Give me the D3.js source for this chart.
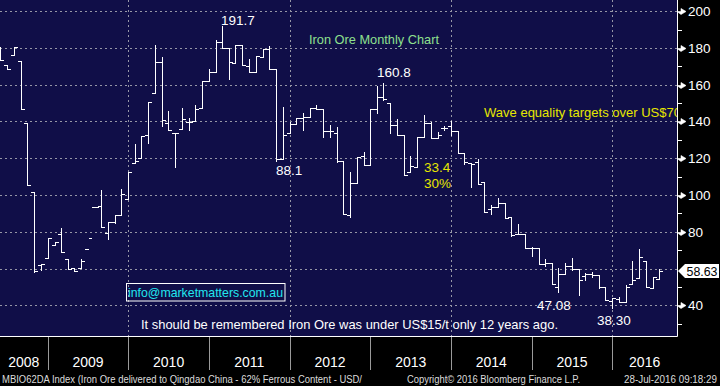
<!DOCTYPE html>
<html>
<head>
<meta charset="utf-8">
<script src="https://cdnjs.cloudflare.com/ajax/libs/d3/7.8.5/d3.min.js"></script>
<style>
  body { margin: 0; background: #000; }
  svg text { font-family: "Liberation Sans", Arial, sans-serif; }
</style>
</head>
<body>
<script>
// monthly OHLC bars of the iron ore index, May 2008 - Jul 2016
let months = [
  "2008-05","2008-06","2008-07","2008-08","2008-09","2008-10","2008-11","2008-12",
  "2009-01","2009-02","2009-03","2009-04","2009-05","2009-06","2009-07","2009-08","2009-09","2009-10","2009-11","2009-12",
  "2010-01","2010-02","2010-03","2010-04","2010-05","2010-06","2010-07","2010-08","2010-09","2010-10","2010-11","2010-12",
  "2011-01","2011-02","2011-03","2011-04","2011-05","2011-06","2011-07","2011-08","2011-09","2011-10","2011-11","2011-12",
  "2012-01","2012-02","2012-03","2012-04","2012-05","2012-06","2012-07","2012-08","2012-09","2012-10","2012-11","2012-12",
  "2013-01","2013-02","2013-03","2013-04","2013-05","2013-06","2013-07","2013-08","2013-09","2013-10","2013-11","2013-12",
  "2014-01","2014-02","2014-03","2014-04","2014-05","2014-06","2014-07","2014-08","2014-09","2014-10","2014-11","2014-12",
  "2015-01","2015-02","2015-03","2015-04","2015-05","2015-06","2015-07","2015-08","2015-09","2015-10","2015-11","2015-12",
  "2016-01","2016-02","2016-03","2016-04","2016-05","2016-06","2016-07"
];
let open = [
  180, 170.6, 176, 172.8, 139, 101.5, 61.8, 65.6,
  72.6, 78.8, 65, 60.5, 60.1, 70.5, 93.3, 94, 79.2, 85.5, 89.1, 97.7,
  117.6, 120, 132.5, 155.3, 172.2, 139, 133.6, 135.8, 139.9, 140.1, 147.2, 161.9,
  166.8, 183.1, 179.8, 172, 181.8, 170, 166.8, 175.3, 179.7, 168.6, 119.4, 133.6,
  138.5, 141.7, 142.6, 147.3, 146.6, 135, 133.9, 118.5, 89.1, 106.4, 121.2, 116.3,
  146.6, 153.5, 150.2, 137.9, 132.7, 112.7, 115.4, 131.8, 139, 131.2, 136.6, 137.5,
  135, 122.7, 117.3, 118.1, 106.9, 92.2, 93.6, 95.8, 87.9, 78.8, 78.8, 71.3,
  71.3, 62.3, 62.8, 50.1, 56.9, 61.4, 59.6, 56.1, 56.9, 56.5, 49.8, 42.3,
  43.6, 42, 51.4, 54.7, 64.1, 49.2, 54.1
];
let high = [
  180.7, 170.6, 180.4, 172.8, 139, 101.5, 62.5, 76.5,
  74.4, 81.9, 65, 60.5, 65, null, null, 102.7, 85.5, 89.1, 103.1, 112.7,
  127.8, 132, 150.6, 181.6, 174.9, 145.7, 133.6, 147.3, 141.7, 149, 161.9, 168.6,
  184.3, 191.7, 179.8, 181.8, 181.8, 174, 175.6, 179.7, 181.1, 168.6, 147.7, 139.9,
  141.7, 144.5, 147.3, 148.8, 146.6, 138.1, 136.8, 118.5, 112.4, 120.5, 123.6, 146.6,
  159.3, 160.8, 150.2, 141.5, 132.7, 121.2, 131.8, 143.5, 139.6, 134.4, 137.5, 140.4,
  135, 122.7, 117.3, 119.4, 106.9, 94.6, 98.2, 95.8, 87.9, 84.2, 78.8, 71.9,
  71.3, 65.2, 62.8, 60.1, 63.2, 65.6, 59.6, 57.4, 58.3, 56.5, 49.8, 44.1,
  44.7, 51, 64.1, 70.6, 64.1, 55.6, 59.6
];
let low = [
  173.5, 168.4, 176, 146.6, 105.3, 58.2, 59.2, 65.6,
  72.6, 68.8, 59.6, 58.5, 60.1, null, null, 82.4, 75.9, 84.6, 89.1, 97.7,
  117.6, 120, 128.5, 155.3, 137.6, 135.3, 115.4, 135.8, 135.3, 140.1, 147.2, 161.9,
  166.8, 179.8, 163, 172, 170.6, 166.8, 166.8, 175.3, 168.6, 118.3, 119.4, 133.6,
  138.5, 135.6, 142.6, 146.6, 131.4, 131.7, 118.1, 89.7, 88.2, 106.4, 116.3, 116.3,
  144.5, 151.7, 133.6, 132.7, 110.9, 112.7, 115.4, 131.8, 131.2, 130.8, 135.4, 132.7,
  122.7, 116.7, 104.2, 106, 90.9, 89.7, 93.6, 87.3, 77.7, 78.8, 71.3, 67,
  62.3, 61.4, 51.6, 47.08, 56.9, 59.2, 45.4, 53.8, 55.6, 49.2, 42.9, 38.3,
  42, 42, 51.4, 54.7, 50.1, 49.2, 54.1
];
let close = [
  173.5, 168.4, 180.4, 146.6, 105.3, 58.7, 62.5, 76.5,
  74.4, 68.8, 59.6, 58.5, 63.9, 76.5, 93.3, 82.4, 85.5, 89.1, 100.4, 112.7,
  118.7, 132, 150.6, 172.2, 140.8, 135.3, 133.6, 141.4, 139.9, 146.6, 161.9, 166.8,
  183.1, 179.8, 172.4, 181.8, 170.6, 166.8, 175.6, 179.7, 168.6, 119.4, 132.5, 138.5,
  141.7, 142.6, 147.3, 146.6, 135, 135, 118.5, 89.7, 106.4, 120.5, 116.3, 146.6,
  153.5, 152.1, 137.9, 132.7, 110.9, 116, 131.8, 139, 131.2, 132.7, 136.6, 135,
  122.7, 117.8, 116.9, 106, 90.9, 93.6, 95.8, 87.3, 78.2, 78.8, 71.3, 71.3,
  62.3, 62.8, 51.6, 56.9, 61.4, 59.6, 53.8, 56.9, 56.5, 49.8, 42.9, 44.1,
  42, 49.8, 53.8, 66.4, 50.1, 55.6, 58.63
];
let lastPrice = 58.63;

let years = ["2008","2009","2010","2011","2012","2013","2014","2015","2016"];
let yTicks = [40, 60, 80, 100, 120, 140, 160, 180, 200];
let yMinor = [30, 50, 70, 90, 110, 130, 150, 170, 190];

// plot box
let W = 720, H = 386;
let plotR = 677, plotB = 336;

let svg = d3.select('body').append('svg')
    .attr('width', W)
    .attr('height', H);

svg.append('rect').attr('width', W).attr('height', H).attr('fill', '#000');
svg.append('rect')
   .attr('width', plotR).attr('height', plotB)
   .attr('fill', '#100e48');

svg.append('clipPath').attr('id', 'plotclip')
   .append('rect').attr('width', plotR).attr('height', plotB);

let x = d3.scaleTime()
    .domain([new Date(2010, 0, 1), new Date(2016, 0, 1)])
    .range([128.3, 612.3]);
let y = d3.scaleLinear().domain([40, 200]).range([305.3, 11.2]);

let parse = d3.timeParse('%Y-%m');
// bloomberg puts each monthly bar at the end of its month
let bars = months.map((m, i) => ({
    date: d3.timeMonth.offset(parse(m), 1),
    o: open[i], h: high[i], l: low[i], c: close[i]
}));

let plot = svg.append('g').attr('clip-path', 'url(#plotclip)');

// dashed grid
plot.selectAll('.hgrid')
    .data(yTicks)
    .enter().append('line')
    .attr('x1', 0).attr('x2', plotR)
    .attr('y1', d => Math.round(y(d)) + 0.5)
    .attr('y2', d => Math.round(y(d)) + 0.5)
    .attr('stroke', '#9696a6')
    .attr('stroke-dasharray', '2,3');

let gridYears = [2010, 2012, 2014, 2016];
plot.selectAll('.vgrid')
    .data(gridYears)
    .enter().append('line')
    .attr('x1', d => Math.round(x(new Date(d, 0, 1))) + 0.5)
    .attr('x2', d => Math.round(x(new Date(d, 0, 1))) + 0.5)
    .attr('y1', 0).attr('y2', plotB)
    .attr('stroke', '#9696a6')
    .attr('stroke-dasharray', '2,3');

// the bars
plot.selectAll('.bar')
    .data(bars)
    .enter().append('path')
    .attr('d', d => {
        let px = Math.round(x(d.date)) + 0.5;
        let p = '';
        if (d.h != null) p += `M${px},${Math.round(y(d.h))}V${Math.round(y(d.l)) + 1}`;
        p += `M${px - 3.5},${Math.round(y(d.o)) + 0.5}H${px}`;
        p += `M${px},${Math.round(y(d.c)) + 0.5}H${px + 3.5}`;
        return p;
    })
    .attr('fill', 'none')
    .attr('stroke', '#fff')
    .attr('stroke-width', 1)
    .attr('shape-rendering', 'crispEdges');

// annotations
let note = (t, px, py, col, size, len) => {
    let el = plot.append('text').text(t)
        .attr('x', px).attr('y', py)
        .attr('fill', col)
        .attr('font-size', size);
    if (len) el.attr('textLength', len).attr('lengthAdjust', 'spacingAndGlyphs');
    return el;
};
note('191.7', 221, 25, '#fff', 13.5);
note('Iron Ore Monthly Chart', 309, 44, '#8ee08e', 13.5, 130);
note('160.8', 377, 77, '#fff', 13.5);
note('Wave equality targets over US$70', 484, 117, '#e6e600', 13, 197);
note('88.1', 276, 175, '#fff', 13.5);
note('33.4', 424, 172, '#e6e600', 13.5);
note('30%', 424, 188, '#e6e600', 13.5);
note('47.08', 537, 310, '#fff', 13.5);
note('38.30', 597, 325, '#fff', 13.5);

plot.append('rect')
    .attr('x', 126.5).attr('y', 283.5)
    .attr('width', 158.5).attr('height', 17.5)
    .attr('fill', 'none').attr('stroke', '#fff');
note('info@marketmatters.com.au', 128, 297, '#22e6ef', 13.5, 155);
note('It should be remembered Iron Ore was under US$15/t only 12 years ago.', 141, 329, '#fff', 13.3, 417);

// borders
svg.append('path')
   .attr('d', `M0,${plotB + 0.5}H${plotR + 0.5}V0`)
   .attr('fill', 'none').attr('stroke', '#fff');

// y axis on the right
let yAxis = svg.append('g');
yAxis.selectAll('.minor')
    .data(yMinor)
    .enter().append('line')
    .attr('x1', plotR).attr('x2', plotR + 5)
    .attr('y1', d => Math.round(y(d)) + 0.5)
    .attr('y2', d => Math.round(y(d)) + 0.5)
    .attr('stroke', '#fff');
// the label of the tick hidden under the last price box is left out
let shown = yTicks.filter(d => Math.abs(d - lastPrice) > 6);
yAxis.selectAll('.major')
    .data(shown)
    .enter().append('path')
    .attr('d', d => {
        let ty = Math.round(y(d)) + 0.5;
        return `M${plotR},${ty}H${plotR + 4}L${plotR + 4},${ty - 3}L${plotR + 9},${ty}L${plotR + 4},${ty + 3}Z`;
    })
    .attr('fill', '#fff').attr('stroke', '#fff').attr('stroke-width', 0.6);
yAxis.selectAll('.lab')
    .data(shown)
    .enter().append('text')
    .attr('x', 688)
    .attr('y', d => y(d) + 5)
    .attr('fill', '#fff')
    .attr('font-size', 13.5)
    .text(d => d);

// last price marker
let ly = y(lastPrice);
yAxis.append('path')
    .attr('d', `M678,${ly}L685,${ly - 7}H719V${ly + 7}H685Z`)
    .attr('fill', '#fff');
yAxis.append('text')
    .attr('x', 686.5).attr('y', ly + 5)
    .attr('fill', '#000').attr('font-size', 13)
    .attr('textLength', 31).attr('lengthAdjust', 'spacingAndGlyphs')
    .text(lastPrice.toFixed(2));

// x axis: year separators and centred labels
let xAxis = svg.append('g');
let seps = years.slice(1).map(yr => x(new Date(+yr, 0, 1)));
xAxis.selectAll('.sep')
    .data(seps)
    .enter().append('line')
    .attr('x1', d => Math.round(d) + 0.5).attr('x2', d => Math.round(d) + 0.5)
    .attr('y1', plotB + 1).attr('y2', 370)
    .attr('stroke', '#9a9a9a');
xAxis.selectAll('.yr')
    .data(years)
    .enter().append('text')
    .attr('x', yr => {
        let a = Math.max(0, x(new Date(+yr, 0, 1)));
        let b = Math.min(plotR, x(new Date(+yr + 1, 0, 1)));
        return (a + b) / 2;
    })
    .attr('y', 367)
    .attr('text-anchor', 'middle')
    .attr('fill', '#fff')
    .attr('font-size', 14)
    .text(yr => yr);

// footer
let foot = (t, px, len) => {
    svg.append('text').text(t)
       .attr('x', px).attr('y', 383)
       .attr('fill', '#dcdcdc')
       .attr('font-size', 10)
       .attr('textLength', len)
       .attr('lengthAdjust', 'spacingAndGlyphs');
};
foot('MBIO62DA Index (Iron Ore delivered to Qingdao China - 62% Ferrous Content - USD/', 2, 360);
foot('Copyright\u00a9 2016 Bloomberg Finance L.P.', 407, 173);
foot('28-Jul-2016 09:18:29', 624, 93);
</script>
</body>
</html>
